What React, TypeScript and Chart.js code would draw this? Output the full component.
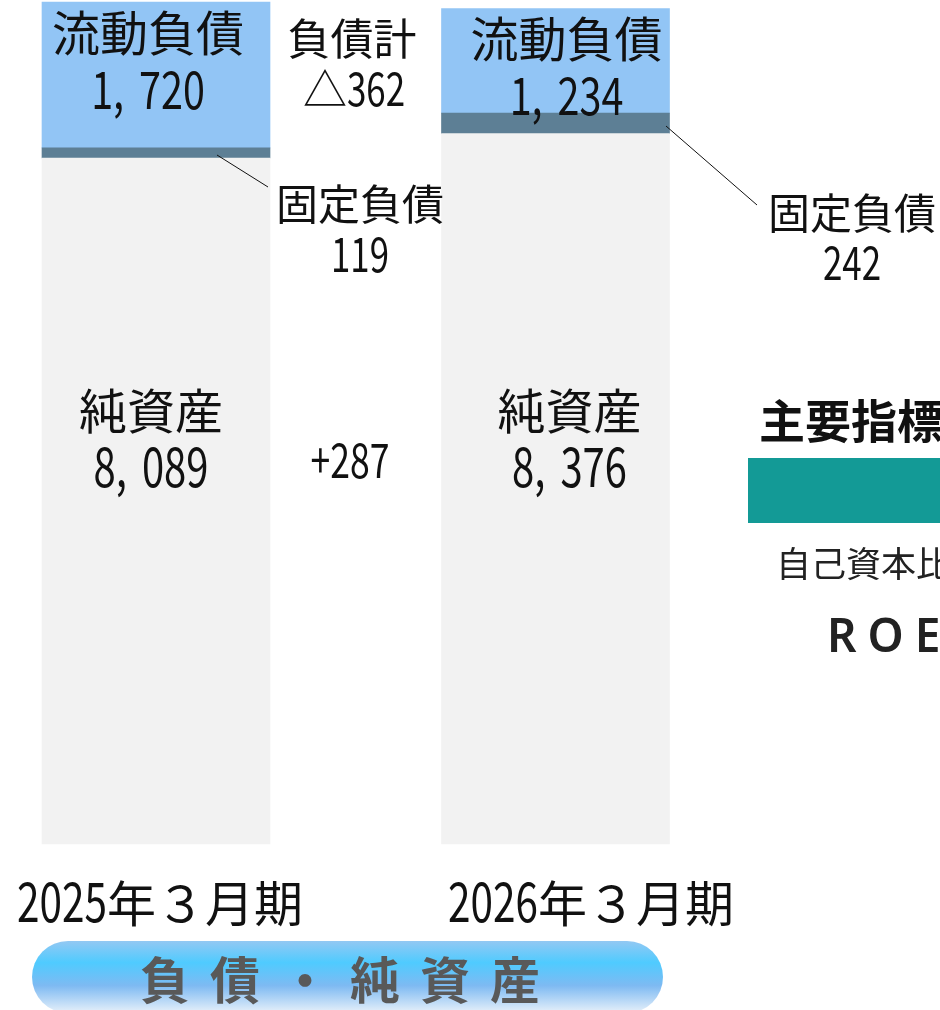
import React, { useEffect, useRef } from "react";
import { Chart, registerables } from "chart.js";

Chart.register(...registerables);

// ---- data ----
const labels = ["2025年３月期", "2026年３月期"];
const netAssets = [8089, 8376];
const fixedLiabilities = [119, 242];
const currentLiabilities = [1720, 1234];
const segmentNames = ["純資産", "固定負債", "流動負債"];
const liabilityTotalLabel = "負債計";
const liabilityChange = "△362";
const netAssetChange = "+287";
const sectionTitle = "負債・純資産";
const sideTitle = "主要指標";
const sideItems = ["自己資本比率", "ROE"];

const COLORS = {
  net: "#F2F2F2",
  fixed: "#5D7F95",
  current: "#92C5F5",
  teal: "#139A96",
  text: "#111111",
};

const FAM = '"Noto Sans CJK JP", "Noto Sans", sans-serif';

type MixOpts = {
  cjk: number;
  dig: number;
  sx: number;
  align?: "center" | "left";
  weight?: string;
  color?: string;
  commaPad?: number;
};

function drawMixed(ctx: CanvasRenderingContext2D, text: string, x: number, baseline: number, o: MixOpts) {
  const w = o.weight || "400";
  const items = Array.from(text).map((ch) => {
    const isDig = /[0-9+,.]/.test(ch);
    const font = `${w} ${isDig ? o.dig : o.cjk}px ${FAM}`;
    ctx.font = font;
    const sc = isDig ? o.sx : 1;
    let adv = ctx.measureText(ch).width * sc;
    if (ch === ",") adv += o.commaPad ?? 15;
    return { ch, font, sc, adv };
  });
  const total = items.reduce((a, b) => a + b.adv, 0);
  let cx = o.align === "left" ? x : x - total / 2;
  ctx.fillStyle = o.color || COLORS.text;
  ctx.textBaseline = "alphabetic";
  ctx.textAlign = "left";
  for (const it of items) {
    ctx.save();
    ctx.font = it.font;
    ctx.translate(cx, baseline);
    ctx.scale(it.sc, 1);
    ctx.fillText(it.ch, 0, 0);
    ctx.restore();
    cx += it.adv;
  }
}

const fmt = (v: number) => v.toLocaleString("en-US");

const annotate = {
  id: "annotate",
  afterDraw(chart: any) {
    const ctx: CanvasRenderingContext2D = chart.ctx;
    const bottom = chart.chartArea.bottom;
    const metaCur = chart.getDatasetMeta(2);
    const metaNet = chart.getDatasetMeta(0);
    ctx.save();

    // current liabilities labels inside top segment
    const curDx = [-8, 11];
    metaCur.data.forEach((el: any, i: number) => {
      drawMixed(ctx, segmentNames[2], el.x + curDx[i], el.y + 49, { cjk: 48, dig: 52, sx: 0.76 });
      drawMixed(ctx, fmt(currentLiabilities[i]), el.x + curDx[i], el.y + 107, { cjk: 48, dig: 52, sx: 0.76 });
    });

    // net assets labels
    const netDx = [-5, 14];
    metaNet.data.forEach((el: any, i: number) => {
      drawMixed(ctx, segmentNames[0], el.x + netDx[i], bottom - 415, { cjk: 48, dig: 54, sx: 0.74 });
      drawMixed(ctx, fmt(netAssets[i]), el.x + netDx[i], bottom - 357, { cjk: 48, dig: 54, sx: 0.74 });
    });

    // liability total change
    drawMixed(ctx, liabilityTotalLabel, 352, 55, { cjk: 43, dig: 46, sx: 0.76 });
    drawMixed(ctx, liabilityChange, 354, 106, { cjk: 44, dig: 46, sx: 0.76 });

    // net asset change
    drawMixed(ctx, netAssetChange, 350, 478, { cjk: 46, dig: 48, sx: 0.74 });

    // fixed liabilities callouts
    ctx.strokeStyle = "#111";
    ctx.lineWidth = 1;
    ctx.beginPath();
    ctx.moveTo(217, 155);
    ctx.lineTo(268, 187);
    ctx.moveTo(666, 126);
    ctx.lineTo(757, 205);
    ctx.stroke();

    drawMixed(ctx, segmentNames[1], 360, 220, { cjk: 42, dig: 46, sx: 0.76 });
    drawMixed(ctx, fmt(fixedLiabilities[0]), 360, 272, { cjk: 42, dig: 47, sx: 0.74 });
    drawMixed(ctx, segmentNames[1], 768, 229, { cjk: 42, dig: 46, sx: 0.76, align: "left" });
    drawMixed(ctx, fmt(fixedLiabilities[1]), 852, 280, { cjk: 42, dig: 46, sx: 0.76 });

    // category labels
    const catX = [160, 591];
    labels.forEach((lab, i) => {
      drawMixed(ctx, lab, catX[i], 922, { cjk: 49, dig: 54, sx: 0.75 });
    });

    // section pill
    const grad = ctx.createLinearGradient(0, 941, 0, 1013);
    grad.addColorStop(0, "#93C8F3");
    grad.addColorStop(0.3, "#4FCBFF");
    grad.addColorStop(0.62, "#7EBAF2");
    grad.addColorStop(1, "#E8F1FA");
    ctx.fillStyle = grad;
    ctx.beginPath();
    (ctx as any).roundRect(32, 941, 631, 72, 36);
    ctx.fill();

    ctx.fillStyle = "#595959";
    ctx.font = `700 50px ${FAM}`;
    (ctx as any).letterSpacing = "20px";
    ctx.textAlign = "left";
    ctx.textBaseline = "alphabetic";
    const tw = ctx.measureText(sectionTitle).width - 20;
    ctx.fillText(sectionTitle, 340 - tw / 2, 999);
    (ctx as any).letterSpacing = "0px";

    // side panel
    ctx.fillStyle = "#111";
    ctx.font = `700 46px ${FAM}`;
    ctx.fillText(sideTitle, 759, 438);
    ctx.fillStyle = COLORS.teal;
    ctx.fillRect(748, 458, 200, 65);
    ctx.fillStyle = "#222";
    ctx.font = `400 35px ${FAM}`;
    ctx.fillText(sideItems[0], 776, 577);
    ctx.font = `600 46px "Noto Sans", ${FAM}`;
    (ctx as any).letterSpacing = "11px";
    ctx.fillText(sideItems[1], 827, 652);
    (ctx as any).letterSpacing = "0px";

    ctx.restore();
  },
};

export default function App() {
  const ref = useRef<HTMLCanvasElement | null>(null);
  useEffect(() => {
    if (!ref.current) return;
    const common = { barThickness: 228, borderWidth: 0, clip: false as any };
    const chart = new Chart(ref.current, {
      type: "bar",
      data: {
        labels,
        datasets: [
          { label: segmentNames[0], data: netAssets, backgroundColor: COLORS.net, ...common },
          { label: segmentNames[1], data: fixedLiabilities, backgroundColor: COLORS.fixed, ...common },
          { label: segmentNames[2], data: currentLiabilities, backgroundColor: COLORS.current, ...common },
        ],
      },
      options: {
        responsive: false,
        maintainAspectRatio: false,
        animation: false,
        layout: { padding: { left: 156, right: 384.5, top: 0, bottom: 166 } },
        plugins: { legend: { display: false }, tooltip: { enabled: false } },
        scales: {
          x: { stacked: true, offset: false, display: false },
          y: { stacked: true, min: 0, max: 9952, display: false },
        },
      },
      plugins: [annotate],
    });
    return () => chart.destroy();
  }, []);
  return (
    <div style={{ position: "fixed", left: 0, top: 0, width: 940, height: 1010, background: "#fff", overflow: "hidden" }}>
      <canvas ref={ref} width={940} height={1010} style={{ display: "block" }} />
    </div>
  );
}
